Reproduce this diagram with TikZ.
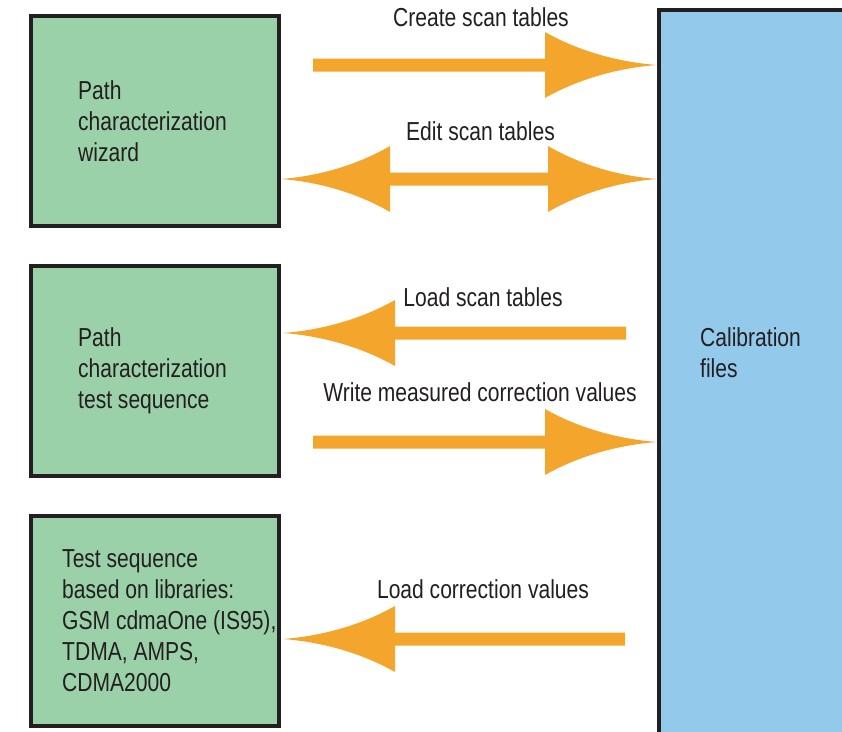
\documentclass[tikz,border=0pt]{standalone}
\usepackage{fontspec}
\setmainfont{Liberation Sans}[FakeStretch=0.81]
\definecolor{boxgreen}{HTML}{9BD1A8}
\definecolor{calblue}{HTML}{93CAEC}
\definecolor{arrowc}{HTML}{F4A52B}
\definecolor{ink}{HTML}{231F20}
\newcommand\fatarrow[4]{% #1 tail x, #2 head base x, #3 tip x, #4 y
  \fill[arrowc] ({#1},{#4-6.5}) -- ({#2},{#4-6.5}) -- ({#2},{#4-33})
    .. controls ({#2+0.3*(#3-#2)},{#4-14}) and ({#2+0.65*(#3-#2)},{#4-3}) .. ({#3},{#4})
    .. controls ({#2+0.65*(#3-#2)},{#4+3}) and ({#2+0.3*(#3-#2)},{#4+14}) .. ({#2},{#4+33})
    -- ({#2},{#4+6.5}) -- ({#1},{#4+6.5}) -- cycle;}
\begin{document}
\begin{tikzpicture}[x=1pt,y=-1pt,
  txt/.style={font=\fontsize{26}{31}\selectfont, text=ink, inner sep=0pt},
  greenbox/.style={draw=ink, line width=4pt, fill=boxgreen, minimum width=248pt, minimum height=210pt, inner sep=0pt},
  calbox/.style={draw=ink, line width=4pt, fill=calblue, minimum width=241pt, minimum height=750pt, inner sep=0pt},
  lbl/.style={txt, anchor=base}]
\useasboundingbox (0,0) rectangle (842,731);
% boxes
\node[greenbox] (b1) at (155,121) {};
\node[greenbox] (b2) at (155,371) {};
\node[greenbox] (b3) at (155,621) {};
\node[calbox] (cal) at (779.5,385) {};
% box texts
\node[txt, align=left, anchor=west] (t1) at ([xshift=49pt]b1.west) {Path\\characterization\\wizard};
\node[txt, align=left, anchor=west] (t2) at ([xshift=49pt]b2.west) {Path\\characterization\\test sequence};
\node[txt, align=left, anchor=west] (t3) at ([xshift=33pt]b3.west) {Test sequence\\based on libraries:\\GSM cdmaOne (IS95),\\TDMA, AMPS,\\CDMA2000};
\node[txt, align=left, anchor=west] (tc) at (700,353) {Calibration\\files};
% arrows
\fatarrow{313}{545}{657}{65}
\fatarrow{469}{548}{657}{179}
\fatarrow{469}{390}{281}{179}
\fatarrow{626}{395}{283}{333}
\fatarrow{313}{545}{657}{442}
\fatarrow{625}{395}{283}{639}
% labels
\node[lbl] (l1) at (481,26) {Create scan tables};
\node[lbl] (l2) at (480.5,140) {Edit scan tables};
\node[lbl] (l3) at (483,306) {Load scan tables};
\node[lbl] (l4) at (480,401) {Write measured correction values};
\node[lbl] (l5) at (483,598) {Load correction values};
\end{tikzpicture}
\end{document}
